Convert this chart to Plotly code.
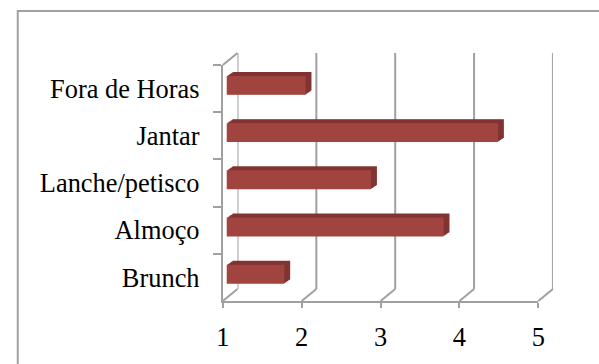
import plotly.graph_objects as go

# Chart data
categories = ["Brunch", "Almoço", "Lanche/petisco", "Jantar", "Fora de Horas"]
values = [1.73, 3.75, 2.83, 4.44, 2.0]
x_ticks = [1, 2, 3, 4, 5]
x_range = [1, 5]

# Figure size and pseudo-3D frame geometry (pixels)
W, H = 599, 364
FRONT_L, FRONT_R = 221, 544      # front plane: value 1 .. value 5
FRONT_T, FRONT_B = 65, 301       # front plane: top .. floor
DEPTH_DX, DEPTH_DY = 15, -12     # offset from front plane to back wall
BAR_DX, BAR_DY = 4, -3.2         # offset of the bar front faces
EXTRUDE_DX, EXTRUDE_DY = 6, -4   # bar thickness (top / side faces)
N_LAYERS = 6

FONT = dict(family="Liberation Serif, Times New Roman, serif", size=26.4, color="black")
FRAME = "#A0A0A0"
FRONT_RED = "#A1443F"
DARK_RED = "#813432"


def px(x):
    return x / W


def py(y):
    return 1 - y / H


def domains(dx, dy):
    return ([px(FRONT_L + dx), px(FRONT_R + dx)],
            [py(FRONT_B + dy), py(FRONT_T + dy)])


fig = go.Figure()
layout = {}

# Front plane: carries the visible axes, ticks and labels
xd, yd = domains(0, 0)
layout["xaxis"] = dict(domain=xd, range=x_range, showline=True, linecolor=FRAME, linewidth=2,
                       ticks="outside", ticklen=5, tickwidth=2, tickcolor=FRAME,
                       tickmode="array", tickvals=x_ticks, tickfont=FONT,
                       ticklabelstandoff=6,
                       showgrid=False, zeroline=False, fixedrange=True, anchor="y")
layout["yaxis"] = dict(domain=yd, type="category", categoryorder="array",
                       categoryarray=categories, range=[-0.5, len(categories) - 0.5],
                       tickson="boundaries", ticks="outside", ticklen=8, tickwidth=2,
                       tickcolor=FRAME, showline=True, linecolor=FRAME, linewidth=2,
                       tickfont=FONT, ticklabelstandoff=16,
                       showgrid=False, zeroline=False, fixedrange=True,
                       anchor="x")
# invisible trace so the front axes are drawn
fig.add_trace(go.Bar(x=[None] * len(categories), y=categories, orientation="h",
                     xaxis="x", yaxis="y", showlegend=False, hoverinfo="skip"))

# Back wall axes
xd, yd = domains(DEPTH_DX, DEPTH_DY)
layout["xaxis2"] = dict(domain=xd, range=x_range, visible=False, fixedrange=True, anchor="y2")
layout["yaxis2"] = dict(domain=yd, range=[0, 1], visible=False, fixedrange=True, anchor="x2")
fig.add_trace(go.Scatter(x=[None], y=[None], xaxis="x2", yaxis="y2",
                         showlegend=False, hoverinfo="skip"))

shapes = []
# back-wall gridlines
for v in x_ticks:
    shapes.append(dict(type="line", xref="x2", yref="y2 domain", x0=v, x1=v, y0=0, y1=1,
                       line=dict(color=FRAME, width=2), layer="below"))
# floor diagonals from each front tick to the back wall
scale = (FRONT_R - FRONT_L) / (x_range[1] - x_range[0])
for v in x_ticks:
    fx = FRONT_L + (v - x_range[0]) * scale
    shapes.append(dict(type="line", xref="paper", yref="paper",
                       x0=px(fx), y0=py(FRONT_B),
                       x1=px(fx + DEPTH_DX), y1=py(FRONT_B + DEPTH_DY),
                       line=dict(color=FRAME, width=2), layer="below"))
# top edge of the side wall
shapes.append(dict(type="line", xref="paper", yref="paper",
                   x0=px(FRONT_L), y0=py(FRONT_T),
                   x1=px(FRONT_L + DEPTH_DX), y1=py(FRONT_T + DEPTH_DY),
                   line=dict(color=FRAME, width=2), layer="below"))
# chart-area border
shapes.append(dict(type="rect", xref="paper", yref="paper",
                   x0=px(11), y0=py(11), x1=px(W + 30), y1=py(H + 30),
                   line=dict(color=FRAME, width=2), fillcolor="rgba(0,0,0,0)", layer="below"))

# Bars: dark extruded layers behind, then the front face
axis_n = 3
offsets = [(BAR_DX + EXTRUDE_DX * k / N_LAYERS, BAR_DY + EXTRUDE_DY * k / N_LAYERS, DARK_RED)
           for k in range(N_LAYERS, 0, -1)]
offsets.append((BAR_DX, BAR_DY, FRONT_RED))
for dx, dy, color in offsets:
    xd, yd = domains(dx, dy)
    xa, ya = f"xaxis{axis_n}", f"yaxis{axis_n}"
    layout[xa] = dict(domain=xd, range=x_range, visible=False, fixedrange=True,
                      anchor=f"y{axis_n}")
    layout[ya] = dict(domain=yd, type="category", categoryorder="array",
                      categoryarray=categories, range=[-0.5, len(categories) - 0.5],
                      visible=False, fixedrange=True, anchor=f"x{axis_n}")
    fig.add_trace(go.Bar(x=values, y=categories, orientation="h", width=0.4,
                         marker=dict(color=color, line=dict(width=0)),
                         xaxis=f"x{axis_n}", yaxis=f"y{axis_n}",
                         showlegend=False, hoverinfo="skip"))
    axis_n += 1

fig.update_layout(width=W, height=H, margin=dict(l=0, r=0, t=0, b=0),
                  paper_bgcolor="white", plot_bgcolor="rgba(0,0,0,0)",
                  shapes=shapes, showlegend=False, **layout)

fig.write_html("out.html")
